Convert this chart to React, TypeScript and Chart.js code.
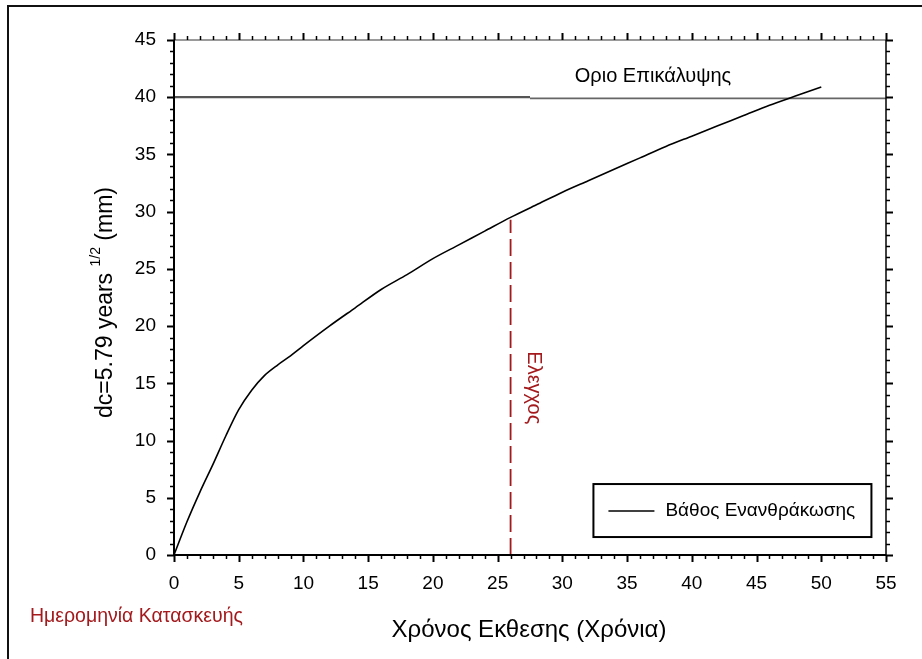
import React, { useEffect, useRef } from "react";
import { Chart, registerables } from "chart.js";

Chart.register(...registerables);

const FONT = "'Liberation Sans', Arial, sans-serif";

// Exposure time (years) and carbonation depth (mm)
const years = [0, 1, 2, 3, 4, 5, 6, 7, 8, 9, 10, 12, 14, 16, 18, 20, 22, 24, 26, 28, 30, 32, 34, 36, 38, 40, 42, 44, 46, 48, 50];
const depth = [0, 2.9, 5.5, 7.9, 10.4, 12.7, 14.4, 15.7, 16.6, 17.4, 18.3, 20.0, 21.6, 23.2, 24.5, 25.9, 27.1, 28.3, 29.5, 30.6, 31.7, 32.7, 33.7, 34.7, 35.7, 36.6, 37.5, 38.4, 39.3, 40.1, 40.9];

// Cover limit line
const limitX1 = [0, 27.5];
const limitY1 = [40, 40];
const limitX2 = [27.5, 55];
const limitY2 = [39.9, 39.9];

// Inspection line
const inspectX = [26, 26];
const inspectY = [0, 29.3];

const xTicks = [0, 5, 10, 15, 20, 25, 30, 35, 40, 45, 50, 55];
const yTicks = [0, 5, 10, 15, 20, 25, 30, 35, 40, 45];

const seriesLabel = "Βάθος Ενανθράκωσης";
const limitLabel = "Οριο Επικάλυψης";
const inspectLabel = "Ελεγχος";
const xTitle = "Χρόνος Εκθεσης (Χρόνια)";
const yTitleMain = "dc=5.79 years ";
const yTitleSup = "1/2";
const yTitleEnd = " (mm)";
const constructionLabel = "Ημερομηνία Κατασκευής";

const RED = "#a3191c";

const decorPlugin = {
  id: "decor",
  beforeDraw(chart: any) {
    const ctx = chart.ctx;
    ctx.save();
    ctx.fillStyle = "#fff";
    ctx.fillRect(0, 0, chart.width, chart.height);
    ctx.restore();
  },
  afterDraw(chart: any) {
    const ctx = chart.ctx;
    const xs = chart.scales.x;
    const ys = chart.scales.y;
    const a = chart.chartArea;
    ctx.save();

    // outer frame (top and left)
    ctx.strokeStyle = "#111";
    ctx.lineWidth = 2;
    ctx.beginPath();
    ctx.moveTo(8, chart.height);
    ctx.lineTo(8, 6);
    ctx.lineTo(chart.width, 6);
    ctx.stroke();

    // axes
    ctx.lineWidth = 2;
    ctx.strokeStyle = "#9a9a9a";
    ctx.beginPath();
    ctx.moveTo(a.left, a.top);
    ctx.lineTo(a.right, a.top);
    ctx.stroke();
    ctx.strokeStyle = "#000";
    ctx.beginPath();
    ctx.moveTo(a.left, a.top);
    ctx.lineTo(a.left, a.bottom);
    ctx.lineTo(a.right, a.bottom);
    ctx.stroke();
    ctx.lineWidth = 1.5;
    ctx.beginPath();
    ctx.moveTo(a.right, a.top);
    ctx.lineTo(a.right, a.bottom);
    ctx.stroke();

    // ticks
    ctx.strokeStyle = "#000";
    for (let v = xs.min; v <= xs.max; v += 1) {
      const px = Math.round(xs.getPixelForValue(v)) + 0.5;
      const major = v % 5 === 0;
      const len = major ? 7 : 4;
      ctx.lineWidth = major ? 2 : 1.5;
      ctx.beginPath();
      ctx.moveTo(px, a.bottom);
      ctx.lineTo(px, a.bottom + len);
      ctx.moveTo(px, a.top);
      ctx.lineTo(px, a.top - len);
      ctx.stroke();
    }
    for (let v = ys.min; v <= ys.max; v += 1) {
      const py = Math.round(ys.getPixelForValue(v)) + 0.5;
      const major = v % 5 === 0;
      const len = major ? 7 : 4;
      ctx.lineWidth = major ? 2 : 1.5;
      ctx.beginPath();
      ctx.moveTo(a.left, py);
      ctx.lineTo(a.left - len, py);
      ctx.moveTo(a.right, py);
      ctx.lineTo(a.right + len, py);
      ctx.stroke();
    }

    // limit label
    ctx.fillStyle = "#000";
    ctx.font = `20px ${FONT}`;
    ctx.textAlign = "center";
    ctx.textBaseline = "alphabetic";
    ctx.fillText(limitLabel, xs.getPixelForValue(37.0), ys.getPixelForValue(41.5) + 2);

    // inspection label (rotated, reading downwards)
    ctx.save();
    ctx.fillStyle = RED;
    ctx.font = `20px ${FONT}`;
    ctx.translate(xs.getPixelForValue(26) + 17, ys.getPixelForValue(17.8));
    ctx.rotate(Math.PI / 2);
    ctx.textAlign = "left";
    ctx.fillText(inspectLabel, 0, 0);
    ctx.restore();

    // legend box
    const lx = xs.getPixelForValue(32.4);
    const ly = ys.getPixelForValue(6.2);
    const lw = 278;
    const lh = 53;
    ctx.fillStyle = "#fff";
    ctx.fillRect(lx, ly, lw, lh);
    ctx.strokeStyle = "#000";
    ctx.lineWidth = 2;
    ctx.strokeRect(lx, ly, lw, lh);
    ctx.lineWidth = 1.5;
    ctx.beginPath();
    ctx.moveTo(lx + 15, ly + 27);
    ctx.lineTo(lx + 61, ly + 27);
    ctx.stroke();
    ctx.fillStyle = "#000";
    ctx.font = `19px ${FONT}`;
    ctx.textAlign = "left";
    ctx.textBaseline = "middle";
    ctx.fillText(seriesLabel, lx + 72, ly + 27);

    // x title
    ctx.textAlign = "center";
    ctx.textBaseline = "alphabetic";
    ctx.font = `24px ${FONT}`;
    ctx.fillText(xTitle, (a.left + a.right) / 2 - 1, 637);

    // y title with superscript
    ctx.save();
    ctx.translate(112, 418);
    ctx.rotate(-Math.PI / 2);
    ctx.textAlign = "left";
    ctx.font = `23px ${FONT}`;
    ctx.fillText(yTitleMain, 0, 0);
    let w = ctx.measureText(yTitleMain).width;
    ctx.font = `14px ${FONT}`;
    ctx.fillText(yTitleSup, w, -12);
    w += ctx.measureText(yTitleSup).width;
    ctx.font = `23px ${FONT}`;
    ctx.fillText(yTitleEnd, w, 0);
    ctx.restore();

    // construction date label
    ctx.fillStyle = RED;
    ctx.font = `19.5px ${FONT}`;
    ctx.textAlign = "left";
    ctx.fillText(constructionLabel, 30, 622);

    ctx.restore();
  },
};

export default function App() {
  const ref = useRef<HTMLCanvasElement>(null);
  useEffect(() => {
    if (!ref.current) return;
    const chart = new Chart(ref.current, {
      type: "line",
      data: {
        datasets: [
          {
            label: seriesLabel,
            data: years.map((x, i) => ({ x, y: depth[i] })),
            borderColor: "#000",
            borderWidth: 1.6,
            pointRadius: 0,
            tension: 0.3,
          },
          {
            label: limitLabel,
            data: limitX1.map((x, i) => ({ x, y: limitY1[i] })),
            borderColor: "#555",
            borderWidth: 2.2,
            pointRadius: 0,
          },
          {
            label: limitLabel + " 2",
            data: limitX2.map((x, i) => ({ x, y: limitY2[i] })),
            borderColor: "#666",
            borderWidth: 1.6,
            pointRadius: 0,
          },
          {
            label: inspectLabel,
            data: inspectX.map((x, i) => ({ x, y: inspectY[i] })),
            borderColor: RED,
            borderWidth: 1.8,
            borderDash: [17, 6],
            pointRadius: 0,
          },
        ],
      },
      options: {
        animation: false,
        responsive: false,
        maintainAspectRatio: false,
        layout: { padding: { top: 40, right: 36, left: 0, bottom: 0 } },
        plugins: { legend: { display: false }, tooltip: { enabled: false } },
        scales: {
          x: {
            type: "linear",
            min: 0,
            max: 55,
            afterBuildTicks: (s: any) => {
              s.ticks = xTicks.map((v) => ({ value: v }));
            },
            afterFit: (s: any) => {
              s.height = 104;
            },
            ticks: {
              font: { size: 19, family: FONT },
              color: "#000",
              padding: 10,
              maxRotation: 0,
            },
            grid: { display: true, drawOnChartArea: false, drawTicks: true, tickLength: 7, color: "rgba(0,0,0,0)" },
            border: { display: false },
          },
          y: {
            type: "linear",
            min: 0,
            max: 45,
            afterBuildTicks: (s: any) => {
              s.ticks = yTicks.map((v) => ({ value: v }));
            },
            afterFit: (s: any) => {
              s.width = 174;
            },
            ticks: {
              font: { size: 19, family: FONT },
              color: "#000",
              padding: 11,
            },
            grid: { display: true, drawOnChartArea: false, drawTicks: true, tickLength: 7, color: "rgba(0,0,0,0)" },
            border: { display: false },
          },
        },
      },
      plugins: [decorPlugin],
    });
    return () => chart.destroy();
  }, []);
  return (
    <div style={{ position: "absolute", left: 0, top: 0, width: 922, height: 659 }}>
      <canvas ref={ref} width={922} height={659} style={{ width: 922, height: 659, display: "block" }} />
    </div>
  );
}
